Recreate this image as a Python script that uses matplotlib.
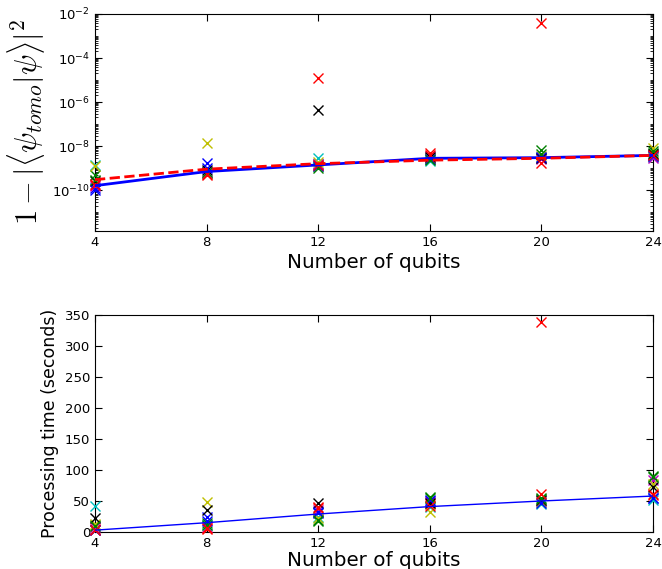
import numpy as np
import matplotlib
matplotlib.use("Agg")
import matplotlib.pyplot as plt
from matplotlib.ticker import LogLocator, FuncFormatter, NullFormatter

qubits = [4, 8, 12, 16, 20, 24]
colors = ['b', 'g', 'r', 'c', 'm', 'y', 'k', 'b', 'g', 'r']

infid_trials = [
    [1.2e-10, 1.7e-9, 1.5e-9, 3.0e-9, 3.0e-9, 4.0e-9],
    [5e-10, 6e-10, 1.2e-9, 2.5e-9, 6.5e-9, 5e-9],
    [2e-10, 4.8e-10, 1.2e-5, 4.8e-9, 4e-3, 3.5e-9],
    [1.4e-9, 6e-10, 2.8e-9, 2.2e-9, 3.0e-9, 3.2e-9],
    [1.5e-10, 7e-10, 1.6e-9, 3.5e-9, 2.5e-9, 3e-9],
    [1.2e-9, 1.4e-8, 2.0e-9, 2.8e-9, 3.5e-9, 8e-9],
    [2.5e-10, 8e-10, 4.4e-7, 3.2e-9, 2.8e-9, 4.5e-9],
    [1.0e-10, 1.0e-9, 1.3e-9, 2.6e-9, 3.3e-9, 3.6e-9],
    [3e-10, 7e-10, 1.0e-9, 2.4e-9, 4.5e-9, 6e-9],
    [1.8e-10, 5.5e-10, 1.4e-9, 3.8e-9, 1.7e-9, 4e-9],
]
infid_median = [1.6e-10, 7e-10, 1.4e-9, 2.8e-9, 3.0e-9, 3.8e-9]
infid_theory = [3e-10, 9e-10, 1.6e-9, 2.3e-9, 2.8e-9, 3.8e-9]

time_trials = [
    [3, 25, 30, 50, 50, 55],
    [12, 14, 18, 57, 55, 90],
    [5, 5, 40, 45, 339, 60],
    [42, 12, 25, 40, 45, 52],
    [8, 8, 36, 48, 50, 84],
    [13, 48, 22, 32, 48, 78],
    [22, 35, 46, 47, 52, 72],
    [4, 18, 32, 52, 47, 55],
    [10, 12, 20, 55, 53, 88],
    [3, 7, 38, 42, 62, 62],
]
time_median = [3, 15, 29, 41, 50, 58]

xticks = [4, 8, 12, 16, 20, 24]
time_yticks = [0, 50, 100, 150, 200, 250, 300, 350]

fig = plt.figure(figsize=(6.62, 5.69), dpi=100)
ax1 = fig.add_axes([95/662, 1-231/569, (653-95)/662, (231-14)/569])
ax2 = fig.add_axes([95/662, 1-532/569, (653-95)/662, (532-315)/569])

for vals, c in zip(infid_trials, colors):
    ax1.plot(qubits, vals, 'x', color=c, ms=7.5, mew=1.0, clip_on=False, zorder=3)
ax1.plot(qubits, infid_median, '-', color='b', lw=2, zorder=4)
ax1.plot(qubits, infid_theory, '--', color='r', lw=2, zorder=5)
ax1.set_yscale('log')
ax1.set_ylim(1.4e-12, 1e-2)
ax1.set_xlim(4, 24)
ax1.set_xticks(xticks)
ax1.yaxis.set_major_locator(LogLocator(base=100.0))
ax1.yaxis.set_minor_locator(LogLocator(base=10.0, subs=np.arange(1, 10), numticks=30))
ax1.yaxis.set_minor_formatter(NullFormatter())
ax1.yaxis.set_major_formatter(FuncFormatter(lambda v, p: r'$\mathregular{10^{%d}}$' % int(round(np.log10(v)))))
ax1.set_xlabel('Number of qubits', fontsize=14.3, labelpad=3)
ax1.set_ylabel(r'$1-|\langle\psi_{tomo}|\psi\rangle|^2$', fontsize=22, math_fontfamily='cm', labelpad=4)

for vals, c in zip(time_trials, colors):
    ax2.plot(qubits, vals, 'x', color=c, ms=7.5, mew=1.0, clip_on=False, zorder=3)
ax2.plot(qubits, time_median, '-', color='b', lw=1, zorder=4)
ax2.set_xlim(4, 24)
ax2.set_ylim(0, 350)
ax2.set_xticks(xticks)
ax2.set_yticks(time_yticks)
ax2.set_xlabel('Number of qubits', fontsize=14.3, labelpad=1)
ax2.set_ylabel('Processing time (seconds)', fontsize=12.5)

for ax in (ax1, ax2):
    ax.tick_params(which='both', direction='in', top=True, right=True, labelsize=9.5)
    ax.tick_params(which='major', length=5)
    ax.tick_params(which='minor', length=2.5)

fig.savefig('out.png', dpi=100)
